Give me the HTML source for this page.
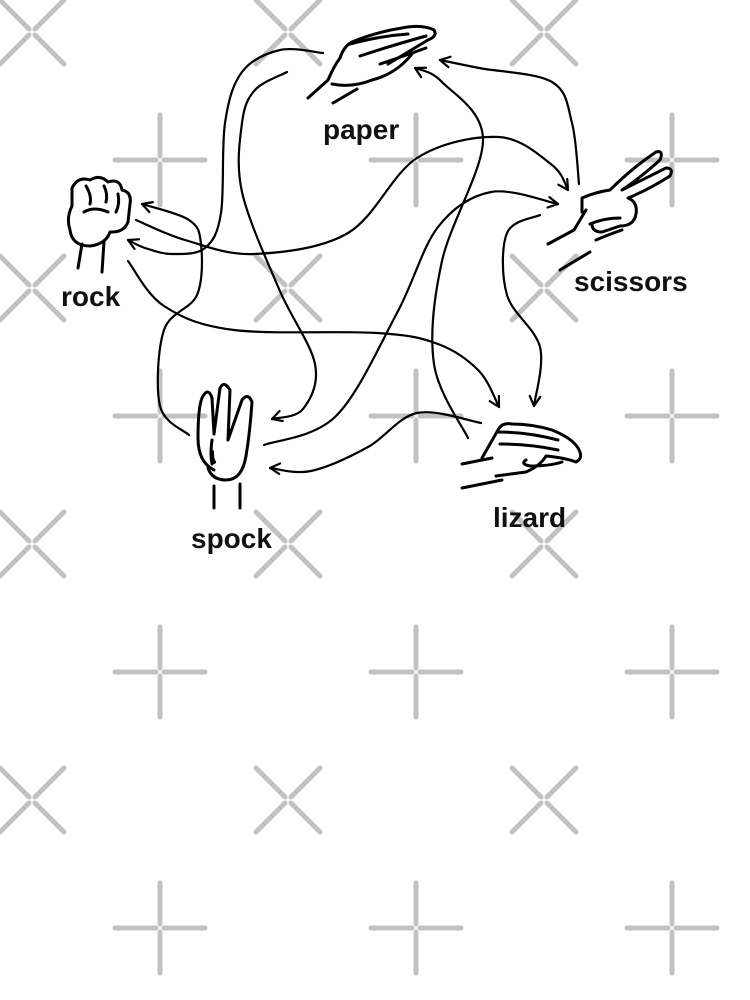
<!DOCTYPE html>
<html><head><meta charset="utf-8"><style>
html,body{margin:0;padding:0;background:#fff;width:750px;height:1000px;overflow:hidden;position:relative}
svg{position:absolute;left:0;top:0;overflow:hidden}
text{font-family:"Liberation Sans",sans-serif;font-weight:bold;font-size:28px;fill:#111}
</style></head><body>
<svg id="s" width="750" height="1000" viewBox="0 0 750 1000">
<g id="wm" stroke="#c2c2c2" stroke-width="5" stroke-linecap="round" fill="none"></g>
<g id="cv" stroke="#000" stroke-width="2.2" fill="none" stroke-linecap="round" stroke-linejoin="round"></g>
<g stroke="#000" stroke-width="3" fill="none" stroke-linecap="round" stroke-linejoin="round">
<path d="M72,188 q6,-12 18,-8 q10,-6 18,2 q12,-4 14,8 q10,2 8,14 l-2,18 q-4,10 -16,10 l-2,0 q-4,12 -20,14 q-18,0 -20,-16 q-4,-12 2,-24 z"/>
<path d="M86,186 q6,10 4,18 M104,186 q4,8 2,16 M118,194 q2,10 -2,18 M84,212 q10,-6 24,0"/>
<line x1="82" y1="244" x2="78" y2="268"/><line x1="104" y1="242" x2="102" y2="272"/>
<path d="M308,98 l20,-18 q6,-14 12,-22 q4,-12 12,-16 q24,-10 50,-14 q20,-4 32,2 q4,6 -6,10 q-20,12 -40,24"/>
<path d="M350,44 q30,-8 58,-10 M360,56 q30,-10 66,-20 M380,64 q24,-8 46,-16 M412,54 q-16,20 -40,26 q-20,8 -40,4"/>
<path d="M333,103 l24,-14"/>
<path d="M582,212 l0,-14 q14,-6 28,-8 q22,-22 46,-38 q8,-2 4,8 q-20,18 -38,30 q24,-12 44,-22 q8,0 4,8 q-22,14 -42,22 q10,4 8,16 q-2,12 -16,12 l-18,6 q-10,0 -10,-8"/>
<path d="M586,210 l-12,20 l-26,14 M590,224 q14,-6 30,-6 M596,240 q14,-6 26,-10 M590,252 l-30,18"/>
<path d="M214,470 q-16,-8 -16,-32 q0,-30 4,-40 q6,-12 10,0 l2,36 l6,-46 q4,-8 10,2 l-2,50 l14,-40 q6,-8 10,2 q-2,30 -6,54 q-4,24 -20,24 q-14,0 -18,-12"/>
<path d="M212,440 q-2,14 0,24"/><path d="M212,452 q0,8 2,10" stroke-width="4"/>
<line x1="214" y1="486" x2="214" y2="508"/><line x1="240" y1="484" x2="240" y2="508"/>
<path d="M482,458 l16,-28 q4,-8 14,-6 q20,0 40,6 q20,8 26,18 q6,10 -2,14 q-10,-4 -30,-6 q-6,10 -20,16 l-30,4"/>
<path d="M498,432 q30,0 60,8 M500,444 q30,0 58,6 M526,460 q-6,4 4,6 q20,0 32,-4 M462,464 l30,-6 M462,488 l40,-8"/>
</g>
<text x="323" y="139">paper</text>
<text x="61" y="306">rock</text>
<text x="574" y="291">scissors</text>
<text x="191" y="548">spock</text>
<text x="493" y="527">lizard</text>
</svg>
<script>
var NS="http://www.w3.org/2000/svg";
var wm=document.getElementById('wm');
function ln(g,a,b,c,d){var l=document.createElementNS(NS,'line');l.setAttribute('x1',a);l.setAttribute('y1',b);l.setAttribute('x2',c);l.setAttribute('y2',d);g.appendChild(l);}
for(var i=-1;i<4;i++)for(var j=-1;j<5;j++){
 var x=32+256*i,y=32+256*j;
 ln(wm,x-32,y-32,x-3,y-3);ln(wm,x+3,y+3,x+32,y+32);ln(wm,x+32,y-32,x+3,y-3);ln(wm,x-3,y+3,x-32,y+32);
 var px=160+256*i,py=160+256*j;
 ln(wm,px-45,py,px-4,py);ln(wm,px+4,py,px+45,py);ln(wm,px,py-45,px,py-4);ln(wm,px,py+4,px,py+45);
}
var cv=document.getElementById('cv');
function curve(p){
 var d="M"+p[0][0]+","+p[0][1];
 for(var k=0;k<p.length-1;k++){
  var p0=p[k-1]||p[k],p1=p[k],p2=p[k+1],p3=p[k+2]||p[k+1];
  d+=" C"+(p1[0]+(p2[0]-p0[0])/6)+","+(p1[1]+(p2[1]-p0[1])/6)+" "+(p2[0]-(p3[0]-p1[0])/6)+","+(p2[1]-(p3[1]-p1[1])/6)+" "+p2[0]+","+p2[1];
 }
 var e=document.createElementNS(NS,'path');e.setAttribute('d',d);cv.appendChild(e);
 var a=p[p.length-1],b=p[p.length-2];
 var ang=Math.atan2(a[1]-b[1],a[0]-b[0]),L=11,s=0.5;
 var h="M"+(a[0]-L*Math.cos(ang-s))+","+(a[1]-L*Math.sin(ang-s))+" L"+a[0]+","+a[1]+" L"+(a[0]-L*Math.cos(ang+s))+","+(a[1]-L*Math.sin(ang+s));
 var f=document.createElementNS(NS,'path');f.setAttribute('d',h);cv.appendChild(f);
}
curve([[323,53],[280,50],[242,72],[225,123],[221,213],[205,248],[172,254],[145,248],[128,240]]);
curve([[287,72],[255,90],[242,123],[242,192],[279,289],[315,364],[303,409],[272,419]]);
curve([[468,438],[434,364],[442,261],[483,140],[442,82],[415,68]]);
curve([[579,184],[572,123],[552,82],[479,68],[440,60]]);
curve([[136,220],[185,240],[254,254],[348,233],[417,158],[499,137],[552,165],[568,190]]);
curve([[264,445],[336,416],[397,313],[438,227],[491,192],[558,204]]);
curve([[540,215],[507,233],[507,295],[540,347],[534,406]]);
curve([[128,261],[164,306],[234,330],[377,333],[438,344],[479,371],[499,407]]);
curve([[189,435],[160,406],[164,330],[197,295],[201,244],[189,220],[142,204]]);
curve([[481,423],[417,413],[368,447],[311,471],[270,468]]);
</script>
</body></html>
